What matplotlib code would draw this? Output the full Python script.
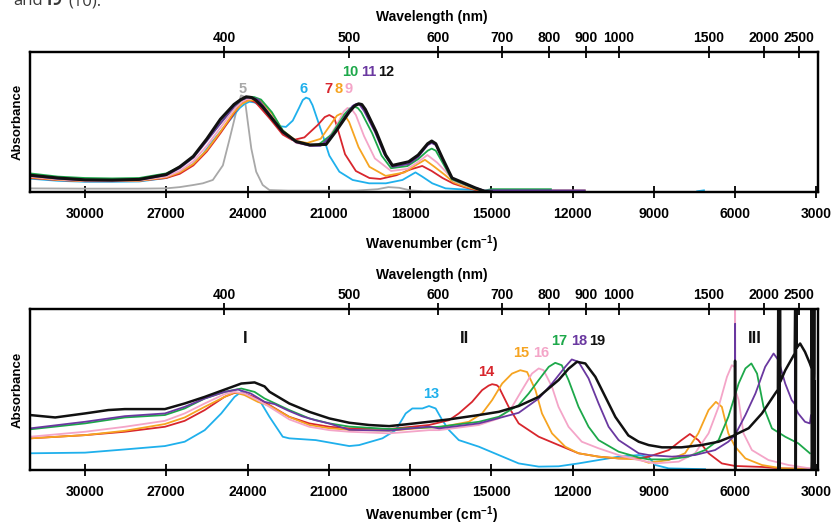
import numpy as np
import matplotlib
matplotlib.use("Agg")
import matplotlib.pyplot as plt

plt.rcParams['font.family'] = ['Liberation Sans', 'DejaVu Sans']
plt.rcParams['mathtext.fontset'] = 'custom'
plt.rcParams['mathtext.rm'] = 'Liberation Sans'
plt.rcParams['mathtext.bf'] = 'Liberation Sans:bold'

# ---------------- data ----------------
wn_ticks = [30000, 27000, 24000, 21000, 18000, 15000, 12000, 9000, 6000, 3000]
wl_ticks = [400, 500, 600, 700, 800, 900, 1000, 1500, 2000, 2500]
# where the original figure places its wavelength ticks on the wavenumber scale
wl_tick_pos = [24860, 20250, 16980, 14600, 12865, 11490, 10300, 6980, 4950, 3650]

# top panel (series 5-12), wavenumber (cm-1) and relative absorbance
w5 = [32030, 30000, 28000, 27000, 26500, 26000, 25650, 25280, 24910, 24660, 24420, 24240, 24110,
      23990, 23860, 23680, 23440, 23190, 22500, 20000, 19200, 18800, 18400, 18000, 17500, 15000]
a5 = [0.026, 0.024, 0.024, 0.026, 0.035, 0.05, 0.062, 0.086, 0.19, 0.38, 0.57, 0.69, 0.68,
      0.5, 0.31, 0.145, 0.05, 0.014, 0.01, 0.01, 0.02, 0.035, 0.03, 0.012, 0.005, 0.005]

w6 = [32030, 31000, 30000, 29000, 28000, 27000, 26500, 26000, 25650, 25300, 24900, 24500, 24290,
      24100, 23930, 23750, 23560, 23190, 22820, 22580, 22330, 22100, 21960, 21840, 21720, 21600,
      21230, 20980, 20610, 20120, 19510, 18890, 18280, 17800, 17550, 17180, 16690, 16200, 15700,
      15200, 15000, 12000, np.nan, 7400, 7150]
a6 = [0.095, 0.08, 0.073, 0.073, 0.075, 0.10, 0.14, 0.20, 0.27, 0.36, 0.455, 0.55, 0.6,
      0.63, 0.645, 0.64, 0.62, 0.53, 0.47, 0.465, 0.51, 0.60, 0.657, 0.674, 0.665, 0.62,
      0.41, 0.26, 0.145, 0.086, 0.062, 0.062, 0.086, 0.14, 0.11, 0.062, 0.026, 0.02, 0.017,
      0.003, 0.005, 0.005, np.nan, 0.005, 0.012]

w7 = [32030, 31000, 30000, 29000, 28000, 27000, 26500, 26000, 25500, 25000, 24500, 24250, 24100,
      23900, 23700, 23200, 22700, 22340, 21900, 21400, 21150, 20980, 20800, 20700, 20400, 20000,
      19500, 19100, 18500, 18000, 17550, 17200, 16800, 16400, 16000, 15600, 15250, 15000]
a7 = [0.1, 0.085, 0.077, 0.077, 0.08, 0.1, 0.13, 0.19, 0.29, 0.42, 0.56, 0.63, 0.655,
      0.655, 0.64, 0.53, 0.41, 0.37, 0.39, 0.48, 0.535, 0.55, 0.53, 0.47, 0.27, 0.15,
      0.1, 0.093, 0.12, 0.16, 0.186, 0.15, 0.1, 0.06, 0.035, 0.015, 0.005, 0.0]

w8 = [32030, 31000, 30000, 29000, 28000, 27000, 26500, 26000, 25500, 25000, 24500, 24200, 23950,
      23700, 23500, 23100, 22700, 22200, 21800, 21300, 20900, 20700, 20550, 20400, 20250, 19900,
      19500, 18900, 18200, 17800, 17450, 17100, 16700, 16400, 16000, 15600, 15250, 15000, 11550]
a8 = [0.105, 0.087, 0.078, 0.078, 0.08, 0.105, 0.14, 0.2, 0.3, 0.43, 0.57, 0.63, 0.655,
      0.655, 0.65, 0.56, 0.44, 0.365, 0.35, 0.38, 0.49, 0.545, 0.56, 0.545, 0.5, 0.32,
      0.18, 0.115, 0.14, 0.19, 0.23, 0.18, 0.12, 0.07, 0.04, 0.02, 0.006, 0.01, 0.01]

w9 = [32030, 31000, 30000, 29000, 28000, 27000, 26500, 26000, 25500, 25000, 24500, 24200, 24000,
      23800, 23600, 23200, 22700, 22200, 21600, 21100, 20700, 20450, 20310, 20150, 20000, 19700,
      19300, 18700, 18100, 17700, 17360, 17000, 16700, 16400, 16000, 15600, 15250, 15000]
a9 = [0.11, 0.09, 0.08, 0.08, 0.083, 0.11, 0.15, 0.22, 0.33, 0.46, 0.59, 0.645, 0.665,
      0.665, 0.655, 0.56, 0.43, 0.35, 0.33, 0.36, 0.48, 0.575, 0.60, 0.59, 0.55, 0.40,
      0.24, 0.15, 0.165, 0.215, 0.264, 0.21, 0.15, 0.08, 0.05, 0.025, 0.008, 0.0]

w10 = [32030, 31000, 30000, 29000, 28000, 27000, 26500, 26000, 25500, 25000, 24500, 24200, 23950,
       23750, 23500, 23100, 22700, 22200, 21700, 21400, 20900, 20400, 20200, 20060, 19930, 19800,
       19400, 19050, 18700, 18100, 17700, 17350, 17200, 17050, 16800, 16450, 16000, 15600, 15250,
       15000, 12800]
a10 = [0.133, 0.11, 0.1, 0.097, 0.1, 0.133, 0.18, 0.25, 0.37, 0.49, 0.61, 0.66, 0.68,
       0.678, 0.66, 0.57, 0.44, 0.36, 0.335, 0.335, 0.41, 0.56, 0.6, 0.61, 0.6, 0.57,
       0.42, 0.26, 0.17, 0.185, 0.235, 0.295, 0.31, 0.295, 0.21, 0.09, 0.055, 0.025, 0.01,
       0.02, 0.02]

w11 = [32030, 31000, 30000, 29000, 28000, 27000, 26500, 26000, 25500, 25000, 24500, 24250, 24000,
       23800, 23600, 23200, 22700, 22200, 21700, 21300, 20800, 20300, 20120, 19980, 19850, 19700,
       19300, 18950, 18650, 18050, 17700, 17350, 17200, 17050, 16800, 16450, 16000, 15600, 15250,
       15000, 11550]
a11 = [0.115, 0.095, 0.083, 0.082, 0.087, 0.12, 0.17, 0.245, 0.365, 0.49, 0.61, 0.655, 0.675,
       0.672, 0.66, 0.56, 0.43, 0.355, 0.33, 0.33, 0.42, 0.57, 0.615, 0.63, 0.62, 0.58,
       0.43, 0.27, 0.18, 0.2, 0.25, 0.335, 0.35, 0.335, 0.23, 0.1, 0.06, 0.03, 0.01,
       0.012, 0.012]

w12 = [32030, 31000, 30000, 29000, 28000, 27000, 26500, 26000, 25500, 25000, 24500, 24250, 24050,
       23850, 23700, 23450, 23200, 22700, 22200, 21700, 21100, 20750, 20250, 20050, 19900, 19780,
       19650, 19250, 18900, 18650, 18050, 17700, 17350, 17200, 17050, 16800, 16450, 16000, 15600,
       15250, 15000]
a12 = [0.12, 0.10, 0.087, 0.085, 0.09, 0.125, 0.18, 0.255, 0.38, 0.52, 0.625, 0.66, 0.68,
       0.675, 0.657, 0.61, 0.55, 0.43, 0.36, 0.336, 0.34, 0.43, 0.57, 0.615, 0.63, 0.625,
       0.59, 0.43, 0.264, 0.19, 0.216, 0.264, 0.345, 0.364, 0.345, 0.24, 0.10, 0.063, 0.03,
       0.005, 0.0]

# bottom panel (series 13-19)
w13 = [32030, 30000, 28530, 27050, 26320, 25580, 24970, 24480, 24230, 23860, 23560, 23190, 22700,
       22460, 21480, 20245, 19880, 19020, 18530, 18160, 17915, 17545, 17300, 17055, 16810, 16560,
       16200, 15460, 14725, 13990, 13250, 12515, 11780, 11040, 10300, 9560, 9190, 8940, 8450, 7110]
a13 = [0.104, 0.108, 0.128, 0.149, 0.176, 0.248, 0.352, 0.455, 0.486, 0.455, 0.435, 0.331, 0.207,
       0.197, 0.186, 0.149, 0.155, 0.197, 0.248, 0.352, 0.383, 0.383, 0.398, 0.383, 0.31, 0.248,
       0.186, 0.145, 0.093, 0.041, 0.021, 0.023, 0.041, 0.062, 0.083, 0.093, 0.08, 0.031, 0.01, 0.005]

w14 = [32030, 30000, 28530, 27050, 26320, 25580, 24850, 24480, 24110, 23620, 23190, 22460, 21720,
       20980, 20245, 18770, 17300, 16560, 16200, 15710, 15340, 15100, 14970, 14800, 14725, 14360,
       13990, 13250, 12515, 11780, 11040, 10300, 9560, 9190, 8450, 7980, 7670, 7360, 6980, 6490,
       6000, 5010, 4270, 3200]
a14 = [0.197, 0.217, 0.238, 0.269, 0.306, 0.373, 0.455, 0.48, 0.476, 0.445, 0.404, 0.331, 0.29,
       0.269, 0.259, 0.255, 0.28, 0.31, 0.352, 0.424, 0.497, 0.525, 0.534, 0.528, 0.517, 0.393,
       0.29, 0.207, 0.155, 0.104, 0.083, 0.072, 0.072, 0.083, 0.124, 0.186, 0.224, 0.186, 0.104,
       0.041, 0.025, 0.019, 0.01, 0.008]

w15 = [32030, 30000, 28530, 27050, 26320, 25580, 24850, 24480, 24110, 23620, 23190, 22460, 21720,
       20980, 20245, 18770, 17300, 16930, 15830, 15340, 14970, 14600, 14235, 13930, 13680, 13370,
       13130, 12760, 12270, 11780, 11040, 10300, 9560, 9190, 8450, 7850, 7360, 6980, 6710, 6490,
       6250, 6000, 5620, 5010, 4270, 3200]
a15 = [0.197, 0.217, 0.244, 0.286, 0.327, 0.393, 0.455, 0.483, 0.466, 0.424, 0.40, 0.33, 0.28,
       0.26, 0.25, 0.245, 0.265, 0.265, 0.3, 0.352, 0.435, 0.538, 0.6, 0.621, 0.61, 0.497,
       0.352, 0.228, 0.145, 0.104, 0.083, 0.072, 0.066, 0.045, 0.062, 0.104, 0.228, 0.373, 0.424,
       0.393, 0.228, 0.145, 0.072, 0.031, 0.01, 0.005]

w16 = [32030, 30000, 28530, 27050, 26320, 25580, 24850, 24480, 24110, 23620, 23190, 22460, 21720,
       20980, 20245, 18770, 17300, 16930, 15460, 14725, 14235, 13870, 13500, 13250, 13070, 12760,
       12520, 12150, 11660, 11040, 10300, 9560, 8940, 8080, 7480, 6980, 6610, 6300, 6120, 6004,
       6000, 5996, 5870, 5690, 5380, 4770, 4030, 3240]
a16 = [0.207, 0.238, 0.269, 0.306, 0.352, 0.414, 0.472, 0.486, 0.476, 0.435, 0.393, 0.315, 0.269,
       0.248, 0.238, 0.228, 0.248, 0.248, 0.28, 0.321, 0.393, 0.497, 0.6, 0.632, 0.621, 0.517,
       0.393, 0.269, 0.176, 0.135, 0.093, 0.062, 0.041, 0.052, 0.104, 0.228, 0.393, 0.58, 0.652,
       0.64, 1.2, 0.5, 0.435, 0.228, 0.124, 0.062, 0.031, 0.01]

w17 = [32030, 30000, 28530, 27050, 26320, 25580, 24850, 24230, 23740, 23370, 22460, 21720, 20980,
       20245, 18770, 17300, 16930, 15460, 14725, 13990, 13620, 13250, 12880, 12640, 12400, 12150,
       11780, 11410, 11040, 10300, 9560, 9190, 8450, 7730, 7110, 6610, 6250, 5870, 5620, 5400,
       5190, 4950, 4640, 4150, 3670, 3240]
a17 = [0.253, 0.29, 0.327, 0.342, 0.383, 0.445, 0.486, 0.507, 0.486, 0.445, 0.373, 0.321, 0.29,
       0.27, 0.255, 0.265, 0.269, 0.3, 0.331, 0.404, 0.476, 0.56, 0.642, 0.667, 0.652, 0.56,
       0.393, 0.269, 0.186, 0.114, 0.078, 0.066, 0.066, 0.083, 0.124, 0.186, 0.331, 0.538, 0.632,
       0.663, 0.6, 0.393, 0.259, 0.207, 0.166, 0.104]

w18 = [32030, 30000, 28530, 27050, 26320, 25580, 24850, 24360, 23880, 23370, 23000, 22500, 22000,
       21500, 21000, 20245, 18770, 17300, 16930, 15460, 13990, 13250, 12760, 12270, 12030, 11780,
       11410, 11040, 10670, 10300, 9560, 9190, 8330, 7480, 6740, 6250, 6004, 6000, 5996, 5620,
       5250, 4890, 4580, 4400, 4150, 3910, 3795, 3790, 3785, 3670, 3420, 3240, 3200]
a18 = [0.259, 0.3, 0.335, 0.352, 0.393, 0.445, 0.486, 0.501, 0.476, 0.424, 0.41, 0.37, 0.335,
       0.31, 0.29, 0.25, 0.245, 0.27, 0.259, 0.29, 0.356, 0.445, 0.538, 0.642, 0.688, 0.673,
       0.57, 0.414, 0.269, 0.186, 0.104, 0.093, 0.083, 0.093, 0.124, 0.176, 0.217, 0.91, 0.22,
       0.342, 0.476, 0.642, 0.725, 0.683, 0.538, 0.435, 0.41, 1.2, 0.39, 0.352, 0.3, 0.29, 0.34]

w19 = [32030, 31100, 30000, 29140, 28530, 27050, 26320, 25580, 24850, 24230, 23740, 23370, 23190,
       22460, 21720, 20980, 20245, 19510, 18770, 18040, 17300, 16560, 15460, 14725, 13990, 13250,
       12515, 12150, 11840, 11530, 11160, 10790, 10420, 9940, 9560, 9190, 8700, 7980, 7240, 6610,
       6004, 6002, 5998, 5994, 5500, 5010, 4520, 4420, 4405, 4390, 4375, 4360, 4345, 4330, 4150,
       3800, 3775, 3760, 3745, 3730, 3600, 3420, 3240, 3190, 3180, 3170, 3090, 3080, 3070, 3060]
a19 = [0.342, 0.327, 0.352, 0.373, 0.379, 0.379, 0.414, 0.455, 0.50, 0.538, 0.545, 0.52, 0.487,
       0.414, 0.362, 0.321, 0.294, 0.28, 0.273, 0.286, 0.30, 0.315, 0.342, 0.362, 0.398, 0.455,
       0.56, 0.63, 0.673, 0.663, 0.58, 0.455, 0.33, 0.215, 0.176, 0.155, 0.141, 0.141, 0.155, 0.176,
       0.217, 0.68, 0.0, 0.22, 0.26, 0.352, 0.476, 0.50, 1.2, -0.1, 1.2, -0.1, 1.2, 0.55, 0.62,
       0.725, 1.2, -0.1, 1.2, 0.76, 0.787, 0.735, 0.663, 0.64, 1.2, -0.1, 0.6, 1.2, -0.1, 0.55]

colors = {
    'gray': '#a8a8a8', 'blue': '#1fb0ec', 'red': '#d8262d', 'orange': '#f6a421',
    'pink': '#f4a5c8', 'green': '#1da84a', 'purple': '#6a38a0', 'black': '#111111',
}

top_series = [(w5, a5, 'gray', '5'), (w6, a6, 'blue', '6'), (w7, a7, 'red', '7'),
              (w8, a8, 'orange', '8'), (w9, a9, 'pink', '9'), (w10, a10, 'green', '10'),
              (w11, a11, 'purple', '11'), (w12, a12, 'black', '12')]
bottom_series = [(w13, a13, 'blue', '13'), (w14, a14, 'red', '14'), (w15, a15, 'orange', '15'),
                 (w16, a16, 'pink', '16'), (w17, a17, 'green', '17'), (w18, a18, 'purple', '18'),
                 (w19, a19, 'black', '19')]

# label anchor points (wavenumber, relative absorbance)
top_labels = [('5', 24190, 0.735), ('6', 21920, 0.735), ('7', 21010, 0.735), ('8', 20635, 0.735),
              ('9', 20260, 0.735), ('10', 20220, 0.857), ('11', 19520, 0.857), ('12', 18890, 0.857)]
bottom_labels = [('13', 17210, 0.476), ('14', 15180, 0.61), ('15', 13910, 0.725),
                 ('16', 13150, 0.725), ('17', 12510, 0.80), ('18', 11770, 0.80), ('19', 11080, 0.80)]
region_labels = [('I', 24100, 0.82), ('II', 16000, 0.82), ('III', 5280, 0.82)]

# ---------------- figure ----------------
W, H = 835, 527
fig = plt.figure(figsize=(W / 100, H / 100), dpi=100)
ax1 = fig.add_axes([30 / W, 1 - 192 / H, 788 / W, 140 / H])
ax2 = fig.add_axes([30 / W, 1 - 470 / H, 788 / W, 160.7 / H])

def style(ax, hpx, xl_off, wl_off):
    ax.set_xlim(32030, 2940)
    ax.set_ylim(0, 1)
    ax.set_yticks([])
    ax.set_xticks(wn_ticks)
    ax.set_xticklabels([str(t) for t in wn_ticks], fontweight='bold', fontsize=10)
    ax.tick_params(axis='x', direction='inout', length=9, width=1.3, pad=6)
    for s in ax.spines.values():
        s.set_linewidth(1.6)
    ax.set_xlabel(r'Wavenumber (cm$^{\mathbf{-1}}$)', fontweight='bold', fontsize=10, va='center')
    ax.xaxis.set_label_coords(0.51, -xl_off / hpx)
    ax.set_ylabel('Absorbance', fontweight='bold', fontsize=9.5, va='center')
    ax.yaxis.set_label_coords(-12 / 788, 0.5)
    top = ax.twiny()
    top.set_xlim(ax.get_xlim())
    top.set_xticks(wl_tick_pos)
    top.set_xticklabels([str(l) for l in wl_ticks], fontweight='bold', fontsize=10)
    top.tick_params(axis='x', direction='inout', length=8, width=1.3, pad=1)
    for s in top.spines.values():
        s.set_linewidth(1.6)
    top.set_xlabel('Wavelength (nm)', fontweight='bold', fontsize=10, va='center')
    top.xaxis.set_label_coords(0.51, 1 + wl_off / hpx)
    return top

style(ax1, 140, 52, 34.5)
style(ax2, 160.7, 45.5, 34)

for w, a, c, name in top_series:
    lw = 2.2 if c == 'black' else 1.3
    ax1.plot(w, a, color=colors[c], lw=lw, solid_joinstyle='round')
for w, a, c, name in bottom_series:
    lw = 1.8 if c == 'black' else 1.3
    ax2.plot(w, a, color=colors[c], lw=lw, solid_joinstyle='round')

col_of = {name: c for _, _, c, name in top_series + bottom_series}
for t, x, y in top_labels:
    ax1.text(x, y, t, color=colors[col_of[t]], fontsize=10.5, fontweight='bold', ha='center', va='center')
for t, x, y in bottom_labels:
    ax2.text(x, y, t, color=colors[col_of[t]], fontsize=10.5, fontweight='bold', ha='center', va='center')
for t, x, y in region_labels:
    ax2.text(x, y, t, color='#111111', fontsize=12, fontweight='bold', ha='center', va='center')

# cropped caption fragment at the very top of the page
fig.text(13 / W, 1 - 5 / H, 'and', fontsize=12, color='#3a3a3a', family=['Open Sans', 'DejaVu Sans'], va='baseline')
fig.text(43 / W, 1 - 5 / H, '19', fontsize=12, color='#3a3a3a', fontweight='bold', family=['Open Sans', 'DejaVu Sans'], va='baseline')
fig.text(68 / W, 1 - 5 / H, '(10).', fontsize=12, color='#3a3a3a', family=['Open Sans', 'DejaVu Sans'], va='baseline')

fig.savefig('out.png', dpi=100)
